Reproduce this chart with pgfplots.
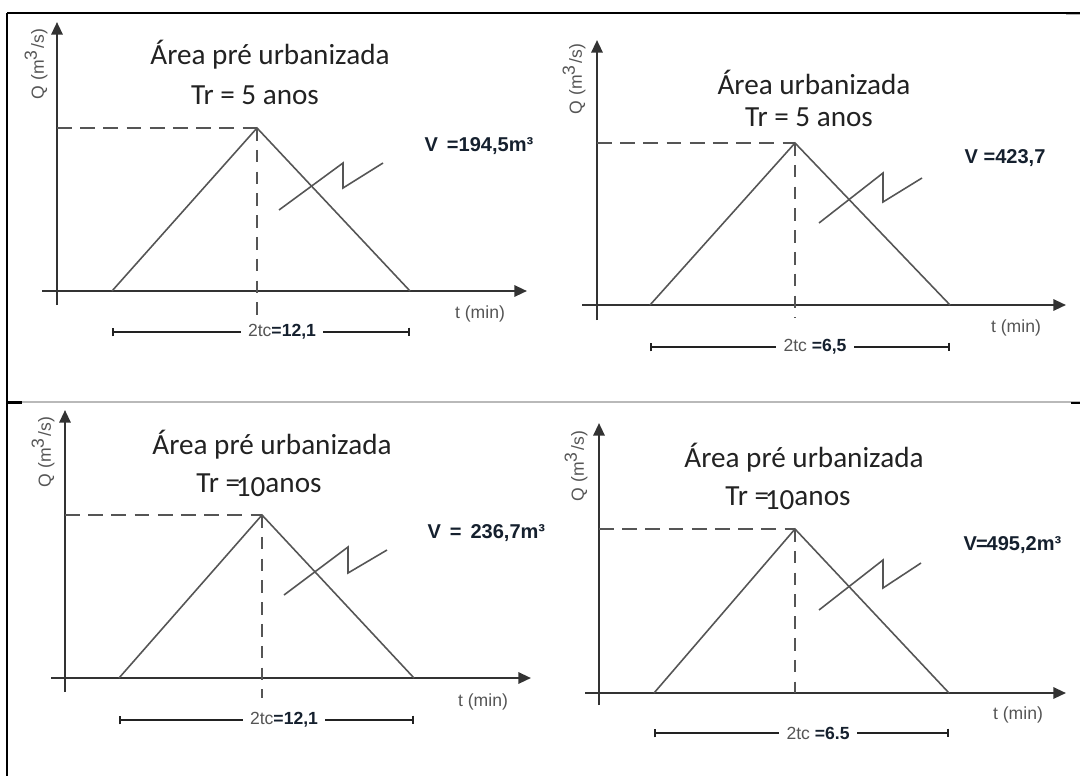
\documentclass[border=0pt]{standalone}
\usepackage{pgfplots}
\pgfplotsset{compat=1.18}
\usetikzlibrary{arrows.meta}
\usepackage{fontspec}
\setmainfont{Carlito}
\newfontfamily\arial{Liberation Sans}

\definecolor{ink}{HTML}{222222}
\definecolor{linegray}{HTML}{555555}
\definecolor{axisgray}{HTML}{333333}
\definecolor{numblue}{HTML}{15202E}

% text styles
\tikzset{
  ttl/.style={font=\fontsize{8.3pt}{9pt}\selectfont, text=ink, inner sep=0pt},
  small/.style={font=\arial\fontsize{5pt}{6pt}\selectfont, text=linegray, inner sep=0pt},
  vol/.style={font=\arial\bfseries\fontsize{5.7pt}{6pt}\selectfont, text=numblue, inner sep=0pt, anchor=west},
  hydro/.style={draw=linegray, line width=0.45pt, no markers},
  guide/.style={draw=linegray, line width=0.6pt, dash pattern=on 4.2pt off 2.4pt, no markers},
  zig/.style={draw=linegray, line width=0.45pt, no markers},
  ax/.style={draw=axisgray, line width=0.65pt, -{Triangle[length=3.6pt,width=3.2pt]}},
  ax0/.style={draw=axisgray, line width=0.65pt},
  bar/.style={draw=ink, line width=0.45pt, {|[width=2.5pt]}-{|[width=2.5pt]}},
}

% labels: 2tc bar value
\newcommand{\tc}[1]{{\color{linegray}2tc}{\bfseries\color{numblue}#1}}

\begin{document}
\begin{tikzpicture}
\useasboundingbox (0,0) rectangle (10.8cm,7.76cm);
\begin{axis}[
  at={(0,0)}, anchor=south west,
  scale only axis, width=10.8cm, height=7.76cm,
  xmin=0, xmax=1080, ymin=0, ymax=776, y dir=reverse,
  hide axis, clip=false,
]
% ---- frame ----
\draw[black, line width=0.45pt] (axis cs:7,13) -- (axis cs:1080,13);
\draw[black, line width=0.45pt] (axis cs:7,13) -- (axis cs:7,776);
\draw[gray!55, line width=0.35pt] (axis cs:7,402) -- (axis cs:1080,402);
\draw[black, line width=0.6pt] (axis cs:7,402.5) -- (axis cs:22,402.5);
\draw[black, line width=0.6pt] (axis cs:1071,403) -- (axis cs:1080,403);
\draw[gray!60, line width=0.35pt] (axis cs:1066,14.5) -- (axis cs:1080,14.5);

% ================= panel 1: pre-urbanized, Tr = 5 =================
\draw[ax0] (axis cs:57,305) -- (axis cs:57,40);
\draw[ax] (axis cs:57,40) -- (axis cs:57,22);
\draw[ax] (axis cs:42,291) -- (axis cs:527,291);
\addplot[hydro] coordinates {(112,291) (257,128) (410,291)};
\addplot[guide] coordinates {(57,128) (257,128)};
\addplot[guide, dash pattern=on 3.6pt off 2.6pt] coordinates {(257,128) (257,316)};
\addplot[zig] coordinates {(279,210) (343,163) (343,188) (383,163)};
\draw[bar] (axis cs:112,332) -- (axis cs:410,332);
\node[small, fill=white, inner xsep=2pt, inner ysep=1pt] at (axis cs:282,332) {\tc{=12,1}};
\node[ttl] at (axis cs:270,55) {Área pré urbanizada};
\node[ttl] at (axis cs:255,95) {Tr = 5 anos};
\node[vol] at (axis cs:424,146) {V\, =194,5m³};
\node[small] at (axis cs:480,314) {t (min)};
\node[small, rotate=90] at (axis cs:36,64) {Q (m\textsuperscript{3}/s)};

% ================= panel 2: urbanized, Tr = 5 =================
\draw[ax0] (axis cs:597,320) -- (axis cs:597,58);
\draw[ax] (axis cs:597,58) -- (axis cs:597,40);
\draw[ax] (axis cs:582,305) -- (axis cs:1066,305);
\addplot[hydro] coordinates {(650,305) (795,143) (950,305)};
\addplot[guide] coordinates {(597,143) (795,143)};
\addplot[guide, dash pattern=on 3.6pt off 2.6pt] coordinates {(795,143) (795,318)};
\addplot[zig] coordinates {(819,223) (883,173) (883,202) (922,178)};
\draw[bar] (axis cs:650,347) -- (axis cs:950,347);
\node[small, fill=white, inner xsep=2pt, inner ysep=1pt] at (axis cs:815,347) {\tc{\ =6,5}};
\node[ttl] at (axis cs:814,82) {Área urbanizada};
\node[ttl] at (axis cs:809,117) {Tr = 5 anos};
\node[vol] at (axis cs:964,158) {V =423,7};
\node[small] at (axis cs:1016,328) {t (min)};
\node[small, rotate=90] at (axis cs:574,79) {Q (m\textsuperscript{3}/s)};

% ================= panel 3: pre-urbanized, Tr = 10 =================
\draw[ax0] (axis cs:65,692) -- (axis cs:65,428);
\draw[ax] (axis cs:65,428) -- (axis cs:65,410);
\draw[ax] (axis cs:51,678) -- (axis cs:531,678);
\addplot[hydro] coordinates {(119,678) (262,515) (414,678)};
\addplot[guide] coordinates {(65,515) (262,515)};
\addplot[guide, dash pattern=on 3.6pt off 2.6pt] coordinates {(262,515) (262,698)};
\addplot[zig] coordinates {(284,595) (348,547) (348,573) (387,550)};
\draw[bar] (axis cs:119,720) -- (axis cs:414,720);
\node[small, fill=white, inner xsep=2pt, inner ysep=1pt] at (axis cs:284,720) {\tc{=12,1}};
\node[ttl] at (axis cs:272,445) {Área pré urbanizada};
\node[ttl] at (axis cs:259,485) {Tr =\kern-1.2pt\raisebox{-1.2pt}{10}anos};
\node[vol] at (axis cs:427,533) {V \,=\, 236,7m³};
\node[small] at (axis cs:483,702) {t (min)};
\node[small, rotate=90] at (axis cs:43,452) {Q (m\textsuperscript{3}/s)};

% ================= panel 4: Tr = 10 =================
\draw[ax0] (axis cs:599,705) -- (axis cs:599,441);
\draw[ax] (axis cs:599,441) -- (axis cs:599,423);
\draw[ax] (axis cs:585,693) -- (axis cs:1066,693);
\addplot[hydro] coordinates {(654,693) (795,529) (949,693)};
\addplot[guide] coordinates {(599,529) (795,529)};
\addplot[guide, dash pattern=on 3.6pt off 2.6pt] coordinates {(795,529) (795,693)};
\addplot[zig] coordinates {(819,610) (883,560) (883,588) (921,563)};
\draw[bar] (axis cs:654,733) -- (axis cs:949,733);
\node[small, fill=white, inner xsep=2pt, inner ysep=1pt] at (axis cs:818,733) {\tc{\ =6.5}};
\node[ttl] at (axis cs:804,458) {Área pré urbanizada};
\node[ttl] at (axis cs:788,498) {Tr =\kern-1.2pt\raisebox{-1.2pt}{10}anos};
\node[vol] at (axis cs:963,545) {V\kern-0.3pt=\kern-0.3pt495,2m³};
\node[small] at (axis cs:1018,715) {t (min)};
\node[small, rotate=90] at (axis cs:576,466) {Q (m\textsuperscript{3}/s)};
\end{axis}
\end{tikzpicture}
\end{document}
